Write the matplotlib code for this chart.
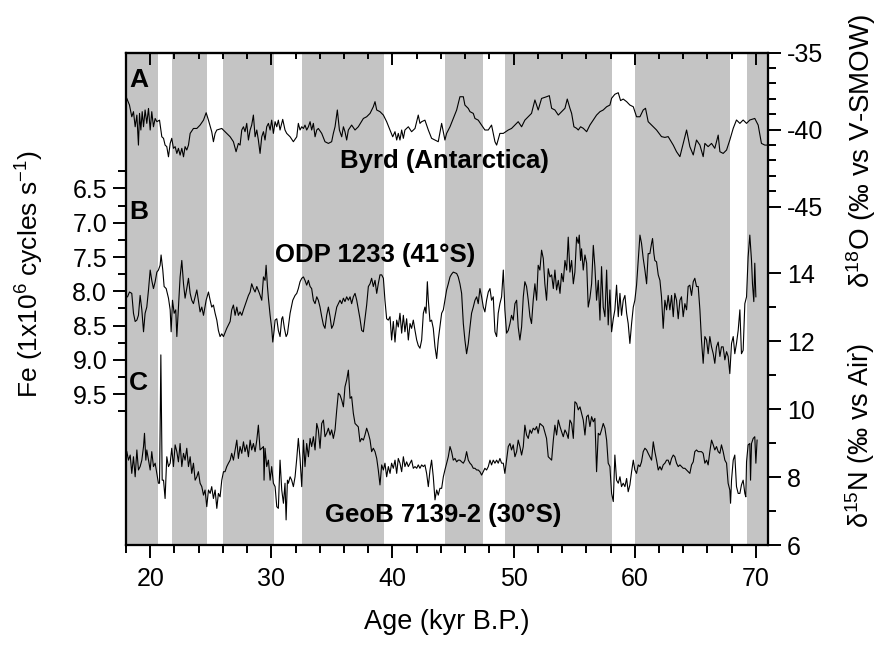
import numpy as np
import matplotlib
matplotlib.use('Agg')
import matplotlib.pyplot as plt
from matplotlib.ticker import FixedLocator, FormatStrFormatter

plt.rcParams['font.family'] = ['Liberation Sans', 'DejaVu Sans']
plt.rcParams['mathtext.fontset'] = 'custom'
plt.rcParams['mathtext.rm'] = 'Liberation Sans'
plt.rcParams['mathtext.it'] = 'Liberation Sans:italic'
plt.rcParams['mathtext.bf'] = 'Liberation Sans:bold'
plt.rcParams['axes.unicode_minus'] = False

# grey bands (kyr B.P.)
band_start = [18.0, 21.8, 26.0, 32.5, 44.3, 49.3, 60.0, 69.3]
band_end = [20.63, 24.7, 30.2, 39.3, 47.5, 58.1, 67.9, 71.0]

# A: Byrd d18O
byrd_age = [18.07, 18.29, 18.48, 18.62, 18.76, 18.90, 19.03, 19.12, 19.23, 19.34,
            19.45, 19.58, 19.72, 19.86, 20.00, 20.13, 20.27, 20.41, 20.55, 20.77,
            20.96, 21.10, 21.23, 21.37, 21.51, 21.65, 21.78, 21.92, 22.06, 22.20,
            22.33, 22.47, 22.61, 22.75, 22.88, 23.02, 23.16, 23.30, 23.57, 23.85,
            24.12, 24.40, 24.62, 24.81, 25.08, 25.22, 25.36, 25.50, 25.91, 26.18,
            26.60, 26.87, 27.09, 27.28, 27.42, 27.56, 27.70, 27.83, 27.97, 28.11,
            28.25, 28.38, 28.52, 28.66, 28.80, 28.93, 29.07, 29.21, 29.35, 29.48,
            29.62, 29.76, 29.90, 30.03, 30.17, 30.31, 30.45, 30.58, 30.72, 30.94,
            31.13, 31.27, 31.55, 31.82, 32.10, 32.23, 32.37, 32.51, 32.65, 32.78,
            32.92, 33.06, 33.20, 33.33, 33.47, 33.61, 33.75, 33.88, 34.16, 34.43,
            34.71, 34.98, 35.12, 35.26, 35.45, 35.62, 35.81, 35.95, 36.08, 36.22,
            36.36, 36.63, 36.91, 37.18, 37.60, 37.87, 38.15, 38.42, 38.56, 38.70,
            38.97, 39.25, 39.52, 39.80, 40.02, 40.21, 40.35, 40.48, 40.62, 40.76,
            40.90, 41.03, 41.31, 41.58, 41.86, 42.13, 42.27, 42.41, 42.68, 42.96,
            43.23, 43.51, 43.78, 44.06, 44.33, 44.47, 44.75, 45.02, 45.30, 45.57,
            45.85, 45.98, 46.26, 46.40, 46.67, 46.81, 47.08, 47.36, 47.63, 47.91,
            48.18, 48.46, 48.60, 48.87, 49.15, 49.56, 49.83, 50.11, 50.38, 50.66,
            50.93, 51.21, 51.48, 51.76, 52.03, 52.31, 52.72, 52.95, 53.14, 53.41,
            53.69, 53.96, 54.24, 54.43, 54.65, 54.79, 54.98, 55.20, 55.34, 55.53,
            55.75, 56.03, 56.30, 56.58, 56.85, 57.13, 57.40, 57.68, 57.95, 58.09,
            58.36, 58.64, 58.83, 59.05, 59.33, 59.60, 59.88, 60.15, 60.43, 60.70,
            60.89, 61.11, 61.39, 61.80, 62.21, 62.49, 62.76, 63.18, 63.45, 63.73,
            64.00, 64.28, 64.55, 64.83, 65.10, 65.38, 65.65, 65.79, 66.06, 66.34,
            66.61, 66.89, 67.03, 67.30, 67.58, 67.85, 68.13, 68.40, 68.68, 68.95,
            69.23, 69.50, 69.91, 70.19, 70.46, 70.74, 70.88]
byrd_d18o = [-37.97, -38.40, -39.16, -38.83, -39.81, -39.05, -41.00, -38.94, -40.02, -38.83,
             -39.81, -38.72, -39.59, -38.62, -40.02, -38.83, -39.81, -39.27, -39.48, -39.38,
             -40.46, -40.56, -41.00, -41.10, -41.76, -40.89, -40.56, -41.21, -41.10, -41.54,
             -41.21, -41.65, -41.21, -41.76, -41.10, -41.32, -41.00, -40.24, -39.92, -39.92,
             -39.70, -39.38, -38.90, -39.38, -40.13, -40.78, -40.24, -40.02, -39.92, -40.13,
             -40.46, -40.78, -41.43, -40.89, -41.00, -40.02, -39.81, -40.13, -39.59, -40.67,
             -40.02, -39.70, -39.05, -40.46, -40.02, -40.67, -41.54, -40.46, -40.13, -40.67,
             -39.81, -39.59, -40.02, -39.38, -40.24, -39.48, -39.81, -39.38, -40.02, -39.33,
             -40.02, -40.24, -40.46, -40.78, -40.46, -39.59, -40.02, -39.81, -39.92, -39.70,
             -40.02, -39.81, -39.48, -40.02, -39.59, -40.46, -40.02, -39.92, -40.24, -40.78,
             -40.89, -40.78, -40.24, -39.81, -38.72, -40.02, -40.46, -39.81, -40.13, -40.67,
             -40.02, -39.70, -40.02, -39.81, -39.27, -39.16, -38.94, -38.51, -38.18, -38.72,
             -38.83, -39.05, -39.48, -40.02, -40.46, -40.13, -40.67, -40.24, -40.67, -40.02,
             -40.56, -40.02, -39.81, -40.13, -39.92, -39.05, -39.59, -39.48, -39.38, -40.02,
             -40.56, -40.67, -40.78, -39.59, -40.67, -40.24, -39.81, -39.27, -38.72, -37.86,
             -37.86, -38.40, -38.62, -38.83, -38.94, -39.27, -39.38, -39.70, -40.02, -40.02,
             -39.70, -40.78, -41.00, -40.24, -40.24, -40.02, -39.92, -39.70, -39.48, -39.81,
             -39.38, -39.16, -38.94, -38.07, -38.72, -37.97, -37.86, -37.79, -38.61, -38.72,
             -39.05, -38.83, -38.61, -38.01, -38.61, -38.94, -39.81, -39.91, -40.02, -39.81,
             -39.91, -40.13, -39.70, -39.37, -39.05, -38.83, -38.72, -38.51, -38.40, -37.96,
             -37.70, -37.60, -38.11, -38.01, -38.18, -38.40, -38.51, -39.16, -39.16, -38.72,
             -38.61, -39.48, -39.70, -40.02, -40.45, -40.50, -40.45, -41.00, -41.43, -41.75,
             -40.89, -40.02, -41.10, -41.64, -40.67, -41.00, -41.75, -40.89, -41.10, -40.89,
             -41.21, -40.35, -41.43, -41.54, -41.32, -40.67, -39.91, -39.37, -39.59, -39.37,
             -39.59, -39.37, -39.27, -39.70, -40.89, -41.00, -41.00]

# B: ODP 1233 Fe counts
odp_age = [18.13, 18.29, 18.48, 18.62, 18.76, 18.90, 19.03, 19.17, 19.31, 19.45,
           19.58, 19.72, 19.86, 20.00, 20.13, 20.27, 20.41, 20.55, 20.68, 20.82,
           20.90, 21.04, 21.15, 21.32, 21.51, 21.65, 21.73, 21.84, 21.98, 22.11,
           22.20, 22.33, 22.47, 22.61, 22.75, 22.88, 23.02, 23.16, 23.30, 23.43,
           23.57, 23.71, 23.85, 23.98, 24.12, 24.26, 24.40, 24.62, 24.81, 24.95,
           25.08, 25.22, 25.36, 25.50, 25.63, 25.77, 25.91, 26.05, 26.32, 26.60,
           26.73, 26.87, 27.01, 27.15, 27.28, 27.42, 27.56, 27.70, 27.97, 28.11,
           28.25, 28.38, 28.52, 28.66, 28.80, 29.02, 29.21, 29.35, 29.48, 29.57,
           29.68, 29.76, 29.90, 30.03, 30.12, 30.23, 30.31, 30.45, 30.58, 30.72,
           30.86, 30.94, 31.08, 31.22, 31.33, 31.55, 31.77, 31.96, 32.10, 32.23,
           32.37, 32.51, 32.65, 32.78, 32.92, 33.06, 33.20, 33.33, 33.47, 33.61,
           33.75, 33.88, 34.02, 34.16, 34.30, 34.43, 34.57, 34.71, 34.85, 34.98,
           35.12, 35.40, 35.67, 35.81, 35.95, 36.08, 36.22, 36.36, 36.50, 36.63,
           36.77, 36.91, 37.05, 37.32, 37.46, 37.60, 37.73, 37.87, 38.01, 38.15,
           38.28, 38.42, 38.56, 38.70, 38.83, 38.97, 39.11, 39.25, 39.38, 39.52,
           39.66, 39.80, 39.93, 40.07, 40.21, 40.35, 40.48, 40.62, 40.76, 40.90,
           41.03, 41.17, 41.31, 41.45, 41.58, 41.72, 41.86, 42.00, 42.13, 42.27,
           42.41, 42.55, 42.68, 42.77, 42.88, 42.96, 43.10, 43.23, 43.37, 43.51,
           43.65, 43.78, 43.92, 44.06, 44.20, 44.33, 44.47, 44.61, 44.75, 44.88,
           45.02, 45.16, 45.30, 45.43, 45.57, 45.71, 45.85, 45.98, 46.12, 46.26,
           46.40, 46.53, 46.67, 46.81, 46.95, 47.08, 47.22, 47.36, 47.50, 47.63,
           47.77, 47.91, 48.05, 48.18, 48.32, 48.46, 48.60, 48.73, 48.87, 49.01,
           49.15, 49.28, 49.42, 49.56, 49.70, 49.83, 49.97, 50.11, 50.25, 50.38,
           50.52, 50.66, 50.80, 50.93, 51.07, 51.21, 51.35, 51.48, 51.62, 51.76,
           51.90, 52.03, 52.17, 52.31, 52.45, 52.58, 52.72, 52.86, 53.00, 53.14,
           53.28, 53.41, 53.55, 53.69, 53.83, 53.96, 54.10, 54.24, 54.38, 54.51,
           54.65, 54.79, 54.93, 55.06, 55.20, 55.34, 55.42, 55.53, 55.61, 55.75,
           55.89, 56.03, 56.16, 56.30, 56.44, 56.58, 56.71, 56.85, 56.99, 57.13,
           57.26, 57.40, 57.54, 57.68, 57.81, 57.95, 58.09, 58.23, 58.36, 58.50,
           58.64, 58.78, 58.91, 59.05, 59.19, 59.33, 59.46, 59.60, 59.74, 59.88,
           60.01, 60.15, 60.29, 60.43, 60.56, 60.70, 60.84, 60.98, 61.11, 61.25,
           61.39, 61.47, 61.58, 61.66, 61.80, 61.94, 62.08, 62.21, 62.35, 62.49,
           62.63, 62.76, 62.90, 63.04, 63.18, 63.31, 63.45, 63.59, 63.73, 63.86,
           64.00, 64.14, 64.28, 64.41, 64.55, 64.69, 64.83, 64.96, 65.10, 65.24,
           65.38, 65.51, 65.65, 65.79, 65.93, 66.06, 66.20, 66.34, 66.48, 66.61,
           66.75, 66.89, 67.03, 67.16, 67.30, 67.44, 67.58, 67.71, 67.85, 67.99,
           68.13, 68.26, 68.40, 68.54, 68.68, 68.81, 68.95, 69.09, 69.23, 69.36,
           69.50, 69.64, 69.72, 69.83, 69.91, 70.00]
odp_fe = [8.08, 8.01, 8.03, 8.32, 8.44, 8.42, 8.35, 8.06, 8.27, 8.59,
          8.32, 8.23, 7.98, 7.69, 7.84, 7.96, 7.86, 7.72, 7.69, 7.62,
          7.47, 7.69, 7.93, 7.96, 8.10, 8.27, 8.59, 8.13, 8.32, 8.27,
          8.66, 8.23, 7.79, 7.55, 7.89, 8.10, 7.96, 7.81, 8.03, 8.13,
          8.18, 8.08, 7.98, 8.13, 8.30, 8.23, 8.35, 8.13, 8.01, 8.13,
          8.23, 8.20, 8.32, 8.42, 8.57, 8.66, 8.62, 8.66, 8.54, 8.44,
          8.27, 8.20, 8.35, 8.23, 8.35, 8.30, 8.35, 8.27, 8.13, 8.06,
          8.01, 7.89, 7.96, 8.01, 7.93, 8.03, 8.13, 7.79, 7.84, 7.62,
          7.93, 8.10, 8.35, 8.54, 8.74, 8.57, 8.42, 8.40, 8.57, 8.66,
          8.40, 8.37, 8.54, 8.66, 8.62, 8.32, 8.13, 8.06, 8.03, 7.96,
          7.86, 7.81, 7.79, 7.84, 7.91, 7.84, 7.93, 7.96, 8.13, 8.18,
          8.08, 8.13, 8.23, 8.37, 8.49, 8.54, 8.35, 8.23, 8.37, 8.54,
          8.49, 8.23, 8.13, 8.18, 8.10, 8.15, 8.08, 8.13, 8.08, 8.18,
          8.08, 8.03, 8.13, 8.40, 8.57, 8.59, 8.40, 8.20, 7.93, 7.89,
          7.81, 7.93, 7.84, 8.03, 7.89, 7.76, 7.76, 7.81, 8.13, 8.40,
          8.42, 8.37, 8.71, 8.44, 8.74, 8.42, 8.52, 8.32, 8.61, 8.35,
          8.59, 8.40, 8.71, 8.47, 8.54, 8.42, 8.57, 8.71, 8.79, 8.83,
          8.71, 8.32, 8.23, 8.32, 7.86, 8.13, 8.44, 8.42, 8.54, 8.81,
          8.98, 8.71, 8.52, 8.32, 8.27, 8.13, 7.98, 7.89, 7.79, 7.75,
          7.72, 7.73, 7.74, 7.79, 7.89, 8.03, 8.47, 8.71, 8.91, 8.76,
          8.52, 8.32, 8.23, 8.13, 8.08, 8.18, 7.96, 8.08, 8.23, 8.30,
          8.13, 8.01, 7.96, 8.13, 8.08, 8.59, 8.66, 8.32, 8.18, 8.08,
          7.69, 8.27, 8.61, 8.57, 8.47, 8.35, 8.42, 8.18, 8.13, 8.52,
          8.71, 8.52, 8.08, 7.86, 7.93, 8.13, 8.37, 8.47, 8.13, 7.89,
          8.13, 7.62, 7.69, 7.40, 7.52, 7.89, 8.13, 7.67, 7.79, 7.76,
          7.96, 7.69, 7.98, 7.84, 8.03, 7.74, 7.86, 7.55, 7.69, 7.21,
          7.72, 7.55, 7.89, 7.72, 7.21, 7.30, 7.18, 7.55, 7.38, 7.69,
          7.47, 7.59, 8.23, 8.10, 7.89, 7.33, 7.64, 8.13, 7.84, 8.42,
          7.64, 8.23, 8.37, 7.69, 8.49, 7.98, 8.59, 8.40, 8.27, 7.91,
          8.37, 8.03, 8.35, 8.13, 8.06, 8.32, 8.47, 8.76, 8.47, 8.23,
          8.13, 7.91, 7.55, 7.18, 7.30, 7.52, 7.69, 7.89, 7.45, 7.45,
          7.30, 7.23, 7.45, 7.55, 7.57, 7.76, 7.84, 8.08, 8.54, 8.13,
          8.27, 8.06, 8.27, 8.06, 8.37, 8.03, 8.13, 8.40, 8.13, 8.08,
          8.37, 8.18, 8.27, 7.93, 7.91, 8.06, 7.86, 7.81, 7.93, 7.93,
          8.27, 8.71, 9.05, 8.66, 8.71, 8.91, 8.66, 8.81, 8.91, 9.05,
          8.81, 8.74, 8.95, 8.81, 8.81, 9.00, 8.88, 8.95, 9.20, 8.76,
          8.66, 8.91, 8.76, 8.57, 8.27, 8.91, 8.86, 8.18, 8.08, 7.50,
          7.18, 7.55, 7.89, 8.15, 7.59, 8.08]

# C: GeoB 7139-2 d15N
geob_age = [18.07, 18.21, 18.35, 18.48, 18.62, 18.76, 18.90, 19.03, 19.17, 19.31,
            19.45, 19.53, 19.64, 19.72, 19.86, 20.00, 20.13, 20.27, 20.41, 20.55,
            20.68, 20.77, 20.82, 20.88, 20.93, 20.99, 21.10, 21.23, 21.37, 21.51,
            21.65, 21.78, 21.92, 22.06, 22.20, 22.33, 22.47, 22.61, 22.75, 22.88,
            23.02, 23.16, 23.30, 23.43, 23.57, 23.71, 23.85, 23.98, 24.12, 24.26,
            24.40, 24.53, 24.67, 24.81, 24.95, 25.08, 25.22, 25.36, 25.50, 25.63,
            25.77, 25.91, 26.05, 26.18, 26.32, 26.46, 26.60, 26.73, 26.87, 27.01,
            27.15, 27.28, 27.42, 27.56, 27.70, 27.83, 27.97, 28.11, 28.25, 28.38,
            28.52, 28.66, 28.80, 28.93, 29.07, 29.21, 29.35, 29.40, 29.48, 29.62,
            29.76, 29.90, 30.03, 30.17, 30.31, 30.45, 30.58, 30.72, 30.86, 31.00,
            31.13, 31.22, 31.33, 31.41, 31.55, 31.68, 31.82, 31.96, 32.10, 32.23,
            32.37, 32.51, 32.65, 32.78, 32.92, 33.06, 33.20, 33.33, 33.47, 33.61,
            33.75, 33.88, 34.02, 34.16, 34.30, 34.43, 34.57, 34.71, 34.85, 34.98,
            35.12, 35.26, 35.40, 35.53, 35.67, 35.81, 35.95, 36.08, 36.22, 36.36,
            36.50, 36.63, 36.77, 36.91, 37.05, 37.18, 37.32, 37.46, 37.60, 37.73,
            37.87, 38.01, 38.15, 38.28, 38.42, 38.56, 38.70, 38.83, 38.97, 39.11,
            39.25, 39.38, 39.52, 39.66, 39.80, 39.93, 40.07, 40.21, 40.35, 40.48,
            40.62, 40.76, 40.90, 41.03, 41.17, 41.31, 41.45, 41.58, 41.72, 41.86,
            42.00, 42.13, 42.27, 42.41, 42.55, 42.68, 42.82, 42.96, 43.10, 43.23,
            43.37, 43.51, 43.65, 43.78, 43.92, 44.06, 44.20, 44.33, 44.47, 44.61,
            44.75, 44.88, 45.02, 45.16, 45.30, 45.43, 45.57, 45.71, 45.85, 45.98,
            46.12, 46.26, 46.40, 46.53, 46.67, 46.81, 46.95, 47.08, 47.22, 47.36,
            47.50, 47.63, 47.77, 47.91, 48.05, 48.18, 48.32, 48.46, 48.60, 48.73,
            48.87, 49.01, 49.15, 49.28, 49.42, 49.56, 49.70, 49.83, 49.97, 50.11,
            50.25, 50.38, 50.52, 50.66, 50.80, 50.93, 51.07, 51.21, 51.35, 51.48,
            51.62, 51.76, 51.90, 52.03, 52.17, 52.45, 52.72, 52.86, 53.14, 53.28,
            53.41, 53.55, 53.69, 53.83, 53.96, 54.10, 54.24, 54.38, 54.51, 54.65,
            54.79, 54.93, 55.06, 55.20, 55.34, 55.48, 55.61, 55.75, 55.89, 56.03,
            56.16, 56.30, 56.44, 56.58, 56.71, 56.85, 56.99, 57.13, 57.26, 57.40,
            57.54, 57.68, 57.81, 57.95, 58.09, 58.23, 58.36, 58.50, 58.64, 58.78,
            58.91, 59.05, 59.19, 59.33, 59.46, 59.60, 59.74, 59.88, 60.01, 60.15,
            60.29, 60.43, 60.56, 60.70, 60.84, 60.98, 61.11, 61.39, 61.53, 61.66,
            61.80, 61.94, 62.08, 62.21, 62.35, 62.49, 62.63, 62.76, 62.90, 63.04,
            63.18, 63.31, 63.45, 63.59, 63.73, 63.86, 64.00, 64.14, 64.28, 64.41,
            64.55, 64.69, 64.83, 64.96, 65.10, 65.24, 65.38, 65.51, 65.65, 65.79,
            65.93, 66.06, 66.20, 66.34, 66.48, 66.61, 66.75, 66.89, 67.03, 67.16,
            67.30, 67.44, 67.58, 67.71, 67.85, 67.91, 67.99, 68.13, 68.26, 68.40,
            68.54, 68.68, 68.81, 68.95, 69.09, 69.17, 69.23, 69.36, 69.50, 69.56,
            69.64, 69.78, 69.91, 70.00, 70.10]
geob_d15n = [8.75, 8.50, 8.65, 8.11, 8.60, 8.01, 8.80, 8.21, 8.31, 8.50,
             8.90, 9.29, 8.50, 8.80, 8.50, 8.21, 8.75, 8.31, 8.41, 8.11,
             7.82, 7.82, 9.39, 11.60, 9.88, 7.91, 7.91, 7.37, 8.60, 8.31,
             8.41, 8.85, 8.31, 8.95, 8.75, 8.45, 8.99, 8.31, 8.70, 8.50,
             8.85, 8.31, 8.60, 8.11, 8.41, 7.91, 8.01, 8.16, 7.82, 7.72,
             7.47, 7.62, 7.13, 7.62, 7.52, 7.72, 7.37, 7.62, 7.08, 7.52,
             7.42, 7.91, 8.16, 8.16, 8.31, 8.41, 8.50, 8.70, 8.50, 8.80,
             9.09, 8.55, 8.90, 8.70, 9.04, 8.75, 8.95, 8.60, 9.09, 8.80,
             8.99, 8.75, 9.09, 9.53, 8.80, 8.85, 8.90, 7.91, 8.85, 8.31,
             8.50, 7.91, 8.31, 7.82, 7.72, 7.13, 7.08, 8.50, 7.62, 7.23,
             7.82, 6.74, 7.91, 7.82, 8.01, 7.91, 7.72, 8.01, 8.55, 9.14,
             8.55, 7.72, 9.09, 8.31, 8.99, 8.60, 9.14, 8.90, 9.19, 8.80,
             9.58, 9.39, 8.85, 9.58, 9.68, 9.19, 9.29, 9.44, 9.24, 9.39,
             9.14, 9.39, 9.98, 10.47, 10.42, 10.27, 10.07, 10.66, 10.86, 11.15,
             10.32, 10.37, 9.88, 9.58, 9.53, 9.48, 9.04, 9.14, 9.09, 9.24,
             9.44, 9.29, 9.09, 8.75, 8.85, 8.75, 8.55, 8.21, 7.77, 8.36,
             8.21, 8.41, 8.01, 8.31, 8.11, 8.41, 8.26, 8.50, 8.11, 8.55,
             8.41, 8.16, 8.60, 8.31, 8.45, 8.31, 8.41, 8.50, 8.26, 8.31,
             8.26, 8.36, 8.26, 8.36, 8.31, 8.36, 8.11, 7.72, 8.21, 8.50,
             8.01, 7.33, 7.62, 7.47, 7.67, 7.67, 8.01, 8.21, 8.41, 8.60,
             8.90, 8.75, 8.50, 8.55, 8.45, 8.50, 8.50, 8.45, 8.41, 8.50,
             8.75, 8.50, 8.41, 8.36, 8.26, 8.26, 8.21, 8.21, 8.16, 8.06,
             8.16, 8.26, 8.21, 8.31, 8.50, 8.36, 8.50, 8.41, 8.50, 8.41,
             8.55, 8.41, 8.41, 8.11, 8.50, 8.90, 8.99, 8.80, 8.95, 8.60,
             8.75, 9.09, 8.90, 8.65, 8.90, 9.53, 9.24, 9.14, 9.39, 9.29,
             9.44, 9.39, 9.49, 9.29, 9.58, 9.49, 9.14, 8.60, 8.50, 9.09,
             9.53, 9.24, 9.68, 9.49, 9.34, 9.19, 9.39, 9.29, 9.14, 9.68,
             9.58, 9.14, 10.22, 10.17, 9.98, 10.07, 9.88, 9.68, 9.24, 9.78,
             9.83, 9.49, 9.78, 9.63, 9.73, 8.16, 9.29, 9.24, 9.39, 9.58,
             9.44, 9.09, 8.41, 8.31, 7.52, 7.28, 8.65, 7.91, 7.82, 8.01,
             7.72, 7.82, 7.72, 7.96, 7.57, 7.77, 8.16, 8.50, 8.21, 8.11,
             8.36, 8.31, 8.45, 8.75, 8.85, 8.80, 8.70, 8.50, 9.04, 8.75,
             8.50, 8.21, 8.31, 8.21, 8.36, 8.41, 8.50, 8.50, 8.36, 8.55,
             8.65, 8.60, 8.41, 8.31, 8.36, 8.31, 8.26, 8.26, 8.21, 8.16,
             8.11, 8.36, 8.45, 8.75, 8.80, 8.75, 8.75, 8.75, 8.70, 8.41,
             8.50, 8.36, 8.75, 9.09, 8.95, 8.80, 8.90, 8.75, 8.70, 8.95,
             8.75, 8.50, 8.41, 7.82, 7.62, 7.23, 7.91, 8.50, 8.65, 7.72,
             7.52, 7.52, 7.77, 7.91, 7.52, 7.42, 8.45, 8.95, 8.99, 7.91,
             8.99, 9.14, 9.19, 8.41, 9.09]

fig = plt.figure(figsize=(8.79, 6.45), dpi=100)
ax = fig.add_axes([0.1433, 0.155, 0.7304, 0.7633])

for s, e in zip(band_start, band_end):
    ax.axvspan(s, e, color='#c4c4c4', lw=0, zorder=0)

# Fe on the left axis (inverted)
ax.plot(odp_age, odp_fe, color='k', lw=0.8)
ax.set_xlim(18, 71)
ax.set_ylim(11.70, 4.52)
ax.xaxis.set_major_locator(FixedLocator([20, 30, 40, 50, 60, 70]))
ax.xaxis.set_minor_locator(FixedLocator(np.arange(18, 71, 2)))
ax.yaxis.set_major_locator(FixedLocator([6.5, 7.0, 7.5, 8.0, 8.5, 9.0, 9.5]))
ax.yaxis.set_minor_locator(FixedLocator(np.arange(6.25, 9.8, 0.5)))
ax.yaxis.set_major_formatter(FormatStrFormatter('%.1f'))
ax.tick_params(which='major', direction='out', length=9.5, width=1.4, labelsize=18)
ax.tick_params(which='minor', direction='out', length=6, width=1.4)
ax.tick_params(axis='y', right=False, pad=4)
ax.tick_params(axis='x', top=False, pad=6)

# top ticks point inwards
top = ax.secondary_xaxis('top')
top.xaxis.set_major_locator(FixedLocator([20, 30, 40, 50, 60, 70]))
top.xaxis.set_minor_locator(FixedLocator(np.arange(18, 71, 2)))
top.tick_params(which='major', direction='in', length=8.5, width=1.4, labeltop=False)
top.tick_params(which='minor', direction='in', length=4, width=1.4)

# d18O right axis
ax_o = ax.twinx()
ax_o.plot(byrd_age, byrd_d18o, color='k', lw=0.8)
ax_o.set_ylim(-66.97, -35)
ax_o.yaxis.set_major_locator(FixedLocator([-45, -40, -35]))
ax_o.yaxis.set_minor_locator(FixedLocator(range(-44, -35)))
ax_o.tick_params(which='major', direction='out', length=9.5, width=1.4, labelsize=18, pad=4)
ax_o.tick_params(which='minor', direction='out', length=6, width=1.4)

# d15N right axis
ax_n = ax.twinx()
ax_n.plot(geob_age, geob_d15n, color='k', lw=0.8)
ax_n.set_ylim(6, 20.5)
ax_n.yaxis.set_major_locator(FixedLocator([6, 8, 10, 12, 14]))
ax_n.yaxis.set_minor_locator(FixedLocator([7, 9, 11, 13]))
ax_n.tick_params(which='major', direction='out', length=9.5, width=1.4, labelsize=18, pad=4)
ax_n.tick_params(which='minor', direction='out', length=6, width=1.4)

for a in (ax, ax_o, ax_n, top):
    for sp in a.spines.values():
        sp.set_linewidth(1.5)

ax.set_xlabel('Age (kyr B.P.)', fontsize=19.5, va='top')
ax.xaxis.set_label_coords(0.5, -0.129)

ax.text(-0.150, 0.55, 'Fe (1x10$^{6}$ cycles s$^{-1}$)', transform=ax.transAxes,
        rotation=90, ha='center', va='center', fontsize=19)
ax.text(1.145, 0.800, 'δ$^{18}$O (‰ vs V-SMOW)', transform=ax.transAxes,
        rotation=90, ha='center', va='center', fontsize=20)
ax.text(1.143, 0.223, 'δ$^{15}$N (‰ vs Air)', transform=ax.transAxes,
        rotation=90, ha='center', va='center', fontsize=19.5)

bold = dict(transform=ax.transAxes, fontweight='bold', va='center', ha='left')
ax.text(0.005, 0.945, 'A', fontsize=19, **bold)
ax.text(0.005, 0.676, 'B', fontsize=19, **bold)
ax.text(0.005, 0.330, 'C', fontsize=19, **bold)
ax.text(0.333, 0.781, 'Byrd (Antarctica)', fontsize=18.5, **bold)
ax.text(0.232, 0.590, 'ODP 1233 (41°S)', fontsize=18.5, **bold)
ax.text(0.310, 0.061, 'GeoB 7139-2 (30°S)', fontsize=18.5, **bold)

fig.savefig('out.png', dpi=100)
